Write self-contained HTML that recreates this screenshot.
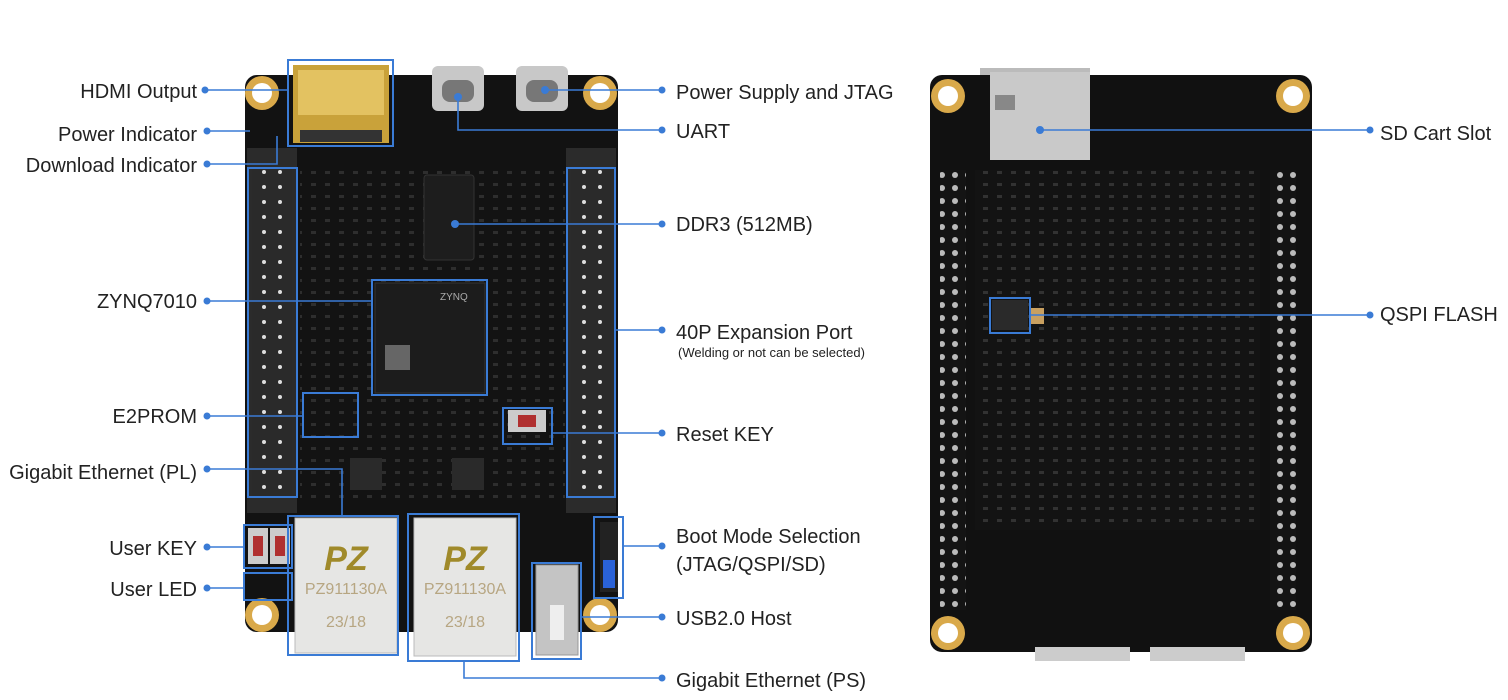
<!DOCTYPE html>
<html><head><style>
body{margin:0;background:#fff;width:1508px;height:695px;overflow:hidden;font-family:"Liberation Sans",sans-serif}
svg text{font-family:"Liberation Sans",sans-serif;fill:#222}
</style></head><body>
<svg width="1508" height="695" viewBox="0 0 1508 695" xmlns="http://www.w3.org/2000/svg">
<defs>
<pattern id="pins" width="16" height="15" patternUnits="userSpaceOnUse"><rect width="16" height="15" fill="#2a2a2a"/><circle cx="8" cy="7" r="2" fill="#ddd"/></pattern>
<pattern id="pcb" width="14" height="12" patternUnits="userSpaceOnUse"><rect width="14" height="12" fill="#141414"/><rect x="3" y="3" width="5" height="3" fill="#3a3a3a"/></pattern>
<pattern id="holes" width="13" height="13" patternUnits="userSpaceOnUse"><rect width="13" height="13" fill="#141414"/><circle cx="6" cy="6" r="3" fill="#bbb"/></pattern>
</defs>
<!-- LEFT BOARD -->
<rect x="245" y="75" width="373" height="557" rx="12" fill="#121212"/>
<rect x="300" y="170" width="265" height="330" fill="url(#pcb)" opacity="0.7"/>
<g fill="#d9a94a"><circle cx="262" cy="93" r="17"/><circle cx="600" cy="93" r="17"/><circle cx="262" cy="615" r="17"/><circle cx="600" cy="615" r="17"/></g>
<g fill="#fff"><circle cx="262" cy="93" r="10"/><circle cx="600" cy="93" r="10"/><circle cx="262" cy="615" r="10"/><circle cx="600" cy="615" r="10"/></g>
<rect x="247" y="148" width="50" height="365" fill="#2b2b2b"/>
<rect x="252" y="168" width="40" height="330" fill="url(#pins)"/>
<rect x="566" y="148" width="50" height="365" fill="#2b2b2b"/>
<rect x="571" y="168" width="40" height="330" fill="url(#pins)"/>
<!-- HDMI -->
<rect x="293" y="65" width="96" height="78" fill="#c9a23a"/>
<rect x="298" y="70" width="86" height="45" fill="#e3c261"/>
<rect x="300" y="130" width="82" height="12" fill="#333"/>
<!-- USB-C -->
<rect x="432" y="66" width="52" height="45" rx="6" fill="#c8c8c8"/>
<rect x="516" y="66" width="52" height="45" rx="6" fill="#c8c8c8"/>
<rect x="442" y="80" width="32" height="22" rx="8" fill="#777"/>
<rect x="526" y="80" width="32" height="22" rx="8" fill="#777"/>
<!-- chips -->
<rect x="424" y="175" width="50" height="85" rx="3" fill="#1d1d1d" stroke="#333"/>
<rect x="375" y="283" width="110" height="110" fill="#1c1c1c" stroke="#333"/>
<rect x="385" y="345" width="25" height="25" fill="#666"/>
<text x="440" y="300" font-size="10" fill="#aaa" style="fill:#aaa">ZYNQ</text>
<rect x="508" y="410" width="38" height="22" fill="#ccc"/><rect x="518" y="415" width="18" height="12" fill="#b03030"/>
<rect x="350" y="458" width="32" height="32" fill="#2a2a2a"/><rect x="452" y="458" width="32" height="32" fill="#2a2a2a"/>
<rect x="248" y="528" width="20" height="36" fill="#ccc"/><rect x="270" y="528" width="20" height="36" fill="#ccc"/>
<rect x="253" y="536" width="10" height="20" fill="#b03030"/><rect x="275" y="536" width="10" height="20" fill="#b03030"/>
<rect x="600" y="522" width="18" height="70" fill="#222"/><rect x="603" y="560" width="12" height="28" fill="#2a62d8"/>
<!-- Ethernet jacks -->
<g><rect x="295" y="518" width="102" height="135" fill="#e6e6e4" stroke="#bbb"/>
<text x="346" y="594" font-size="16" text-anchor="middle" style="fill:#b7a682">PZ911130A</text>
<text x="346" y="627" font-size="16" text-anchor="middle" style="fill:#b7a682">23/18</text>
<text x="346" y="570" font-size="34" font-weight="bold" font-style="italic" text-anchor="middle" style="fill:#a08a2a">PZ</text></g>
<g><rect x="414" y="518" width="102" height="138" fill="#e6e6e4" stroke="#bbb"/>
<text x="465" y="594" font-size="16" text-anchor="middle" style="fill:#b7a682">PZ911130A</text>
<text x="465" y="627" font-size="16" text-anchor="middle" style="fill:#b7a682">23/18</text>
<text x="465" y="570" font-size="34" font-weight="bold" font-style="italic" text-anchor="middle" style="fill:#a08a2a">PZ</text></g>
<rect x="536" y="565" width="42" height="90" fill="#c4c4c4" stroke="#999"/>
<rect x="550" y="605" width="14" height="35" fill="#eee"/>

<!-- RIGHT BOARD -->
<rect x="980" y="68" width="110" height="95" fill="#bbb"/>
<rect x="930" y="75" width="382" height="577" rx="12" fill="#111"/>
<rect x="940" y="170" width="26" height="440" fill="url(#holes)"/>
<rect x="1270" y="170" width="26" height="440" fill="url(#holes)"/>
<rect x="975" y="170" width="285" height="360" fill="url(#pcb)" opacity="0.8"/>
<rect x="990" y="72" width="100" height="88" fill="#c9c9c9"/>
<rect x="995" y="95" width="20" height="15" fill="#888"/>
<rect x="992" y="300" width="36" height="30" fill="#2a2a2a"/>
<rect x="1030" y="308" width="14" height="16" fill="#c9a060"/>
<rect x="1035" y="647" width="95" height="14" fill="#ccc"/><rect x="1150" y="647" width="95" height="14" fill="#ccc"/>
<g fill="#d9a94a"><circle cx="948" cy="96" r="17"/><circle cx="1293" cy="96" r="17"/><circle cx="948" cy="633" r="17"/><circle cx="1293" cy="633" r="17"/></g>
<g fill="#fff"><circle cx="948" cy="96" r="10"/><circle cx="1293" cy="96" r="10"/><circle cx="948" cy="633" r="10"/><circle cx="1293" cy="633" r="10"/></g>

<!-- BOXES -->
<g fill="none" stroke="#3a7bd5" stroke-width="2">
<rect x="288" y="60" width="105" height="86"/>
<rect x="248" y="168" width="49" height="329"/>
<rect x="567" y="168" width="48" height="329"/>
<rect x="372" y="280" width="115" height="115"/>
<rect x="303" y="393" width="55" height="44"/>
<rect x="503" y="408" width="49" height="36"/>
<rect x="288" y="516" width="110" height="139"/>
<rect x="408" y="514" width="111" height="147"/>
<rect x="532" y="563" width="49" height="96"/>
<rect x="594" y="517" width="29" height="81"/>
<rect x="244" y="525" width="48" height="43"/>
<rect x="244" y="573" width="48" height="27"/>
<rect x="990" y="298" width="40" height="35"/>
</g>
<!-- LINES -->
<g fill="none" stroke="#3a7bd5" stroke-width="1.6">
<path d="M205 90H288"/>
<path d="M207 131H250"/>
<path d="M207 164H277V136"/>
<path d="M207 301H372"/>
<path d="M207 416H303"/>
<path d="M207 469H342V516"/>
<path d="M207 547H244"/>
<path d="M207 588H244"/>
<path d="M545 90H662"/>
<path d="M458 97V130H662"/>
<path d="M455 224H662"/>
<path d="M615 330H662"/>
<path d="M552 433H662"/>
<path d="M623 546H662"/>
<path d="M581 617H662"/>
<path d="M464 661V678H662"/>
<path d="M1040 130H1370"/>
<path d="M1030 315H1370"/>
</g>
<g fill="#3a7bd5">
<circle cx="205" cy="90" r="3.5"/><circle cx="207" cy="131" r="3.5"/><circle cx="207" cy="164" r="3.5"/><circle cx="207" cy="301" r="3.5"/><circle cx="207" cy="416" r="3.5"/><circle cx="207" cy="469" r="3.5"/><circle cx="207" cy="547" r="3.5"/><circle cx="207" cy="588" r="3.5"/>
<circle cx="662" cy="90" r="3.5"/><circle cx="662" cy="130" r="3.5"/><circle cx="662" cy="224" r="3.5"/><circle cx="662" cy="330" r="3.5"/><circle cx="662" cy="433" r="3.5"/><circle cx="662" cy="546" r="3.5"/><circle cx="662" cy="617" r="3.5"/><circle cx="662" cy="678" r="3.5"/>
<circle cx="1370" cy="130" r="3.5"/><circle cx="1370" cy="315" r="3.5"/>
<circle cx="545" cy="90" r="4"/><circle cx="458" cy="97" r="4"/><circle cx="455" cy="224" r="4"/><circle cx="1040" cy="130" r="4"/>
</g>
<!-- LABELS -->
<g font-size="20">
<text x="197" y="98" text-anchor="end">HDMI Output</text>
<text x="197" y="141" text-anchor="end">Power Indicator</text>
<text x="197" y="172" text-anchor="end">Download Indicator</text>
<text x="197" y="308" text-anchor="end">ZYNQ7010</text>
<text x="197" y="423" text-anchor="end">E2PROM</text>
<text x="197" y="479" text-anchor="end">Gigabit Ethernet (PL)</text>
<text x="197" y="555" text-anchor="end">User KEY</text>
<text x="197" y="596" text-anchor="end">User LED</text>
<text x="676" y="99">Power Supply and JTAG</text>
<text x="676" y="138">UART</text>
<text x="676" y="231">DDR3 (512MB)</text>
<text x="676" y="339">40P Expansion Port</text>
<text x="678" y="357" font-size="13">(Welding or not can be selected)</text>
<text x="676" y="441">Reset KEY</text>
<text x="676" y="543">Boot Mode Selection</text>
<text x="676" y="571">(JTAG/QSPI/SD)</text>
<text x="676" y="625">USB2.0 Host</text>
<text x="676" y="687">Gigabit Ethernet (PS)</text>
<text x="1380" y="140">SD Cart Slot</text>
<text x="1380" y="321">QSPI FLASH</text>
</g>
</svg>
</body></html>
